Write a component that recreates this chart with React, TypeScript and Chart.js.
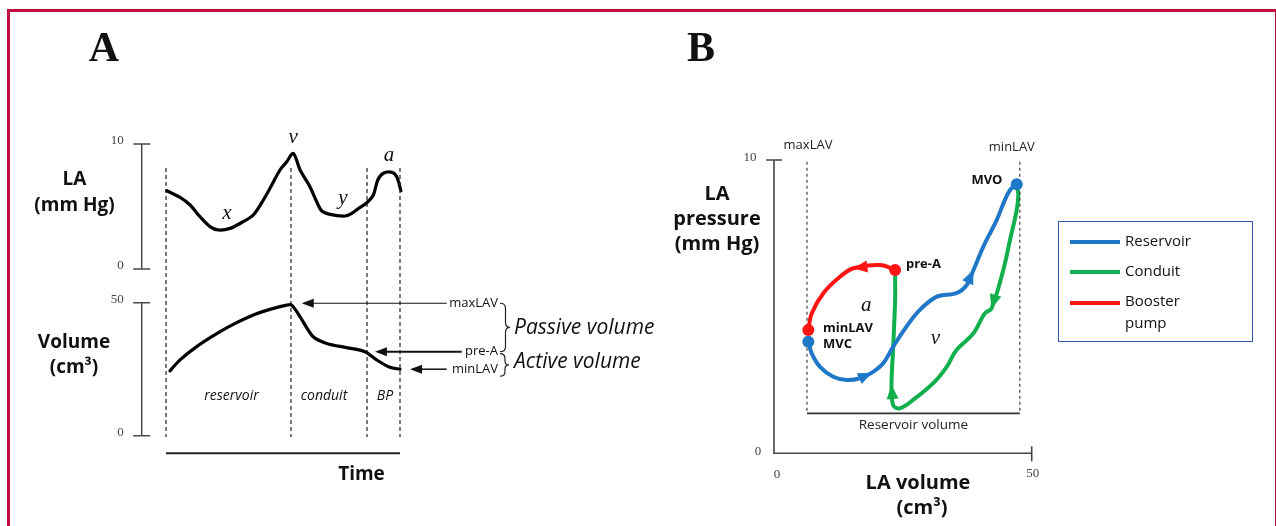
import React, { useEffect, useRef } from "react";
import { Chart, registerables } from "chart.js";
Chart.register(...registerables);

const W = 1276;
const H = 526;
const SANS = '"Open Sans", "DejaVu Sans", sans-serif';
const SERIF = '"Liberation Serif", "DejaVu Serif", serif';

// ---------------- Panel A : LA pressure over time ----------------
const pressureTime = [0.3, 6.0, 10.3, 14.5, 18.8, 22.4, 27.4, 33.0, 37.3, 41.6, 45.2, 48.7, 51.6, 54.4, 57.3, 61.5, 64.4, 66.5, 70.1, 76.5, 79.4, 82.9, 85.8, 88.6, 90.5, 92.9, 96.5, 98.6, 100.4];
const pressureValues = [6.26, 5.73, 5.12, 4.19, 3.39, 3.12, 3.25, 3.79, 4.32, 5.52, 6.72, 7.92, 8.58, 9.25, 7.92, 6.58, 5.38, 4.66, 4.37, 4.24, 4.45, 4.93, 5.3, 5.92, 7.12, 7.66, 7.74, 7.38, 6.26];
const pressureTicks = [0, 10];
const waveLabels = ["x", "v", "y", "a"];
const waveLabelTime = [26, 54.3, 75.6, 95.3];
const waveLabelPressure = [4.48, 10.56, 5.68, 9.12];

// ---------------- Panel A : LA volume over time ----------------
const volumeTime = [1.7, 6.0, 13.1, 23.1, 30.2, 37.3, 44.4, 51.6, 53.7, 57.3, 62.9, 68.7, 77.2, 85.0, 90.0, 95.7, 100];
const volumeValues = [24.4, 28.5, 33.5, 39.1, 42.5, 45.4, 47.5, 49.1, 49.1, 44.7, 37.2, 34.7, 33.1, 31.6, 28.5, 25.7, 25.0];
const volumeTicks = [0, 50];
const phaseBounds = [0, 53.4, 85.9, 100];
const phaseLabels = ["reservoir", "conduit", "BP"];
const phaseLabelTime = [28, 67.5, 93.6];
const markerNames = ["maxLAV", "pre-A", "minLAV"];
const markerVolumes = [49.8, 31.6, 25.0];
const markerTipTime = [58, 89.3, 104.3];

// ---------------- Panel B : pressure-volume loop ----------------
const reservoirVolume = [6.66, 7.31, 8.93, 11.5, 14.1, 16.7, 19.0, 21.2, 23.1, 25.7, 28.3, 31.6, 35.4, 37.4, 38.7, 40.6, 43.2, 44.8, 45.8, 47.1];
const reservoirPressure = [3.80, 3.41, 2.95, 2.61, 2.50, 2.56, 2.75, 3.07, 3.63, 4.32, 4.89, 5.34, 5.46, 5.74, 6.25, 7.04, 7.95, 8.64, 8.98, 9.17];
const conduitVolume = [47.1, 47.4, 47.1, 45.8, 44.5, 42.2, 40.9, 38.7, 35.4, 33.5, 30.9, 27.0, 24.4, 23.1, 22.8, 23.1, 23.5, 23.5];
const conduitPressure = [9.17, 8.81, 8.30, 7.28, 6.26, 4.94, 4.77, 4.09, 3.52, 2.95, 2.39, 1.82, 1.53, 1.65, 2.33, 3.52, 5.23, 6.02];
const boosterVolume = [23.5, 20.6, 15.4, 12.8, 9.57, 7.31, 6.66];
const boosterPressure = [6.25, 6.42, 6.31, 6.02, 5.46, 4.77, 4.20];
const seriesNames = ["Reservoir", "Conduit", "Booster pump"];
const seriesColors = ["#1F77C8", "#12B04C", "#FF1414"];
const loopArrowIndex = [[6, 14], [5, 14], [2]];
const pointNames = ["MVO", "pre-A", "minLAV", "MVC"];
const pointVolume = [47.1, 23.5, 6.66, 6.66];
const pointPressure = [9.17, 6.25, 4.20, 3.80];
const pointColor = [0, 2, 2, 0];
const pointLabelVolume = [38.3, 25.6, 9.5, 9.5];
const pointLabelPressure = [9.3, 6.45, 4.26, 3.7];
const loopLetters = ["a", "v"];
const loopLetterVolume = [17.9, 31.3];
const loopLetterPressure = [5.05, 3.9];
const loopXTicks = [0, 50];
const loopYTicks = [0, 10];
const maxLAVVolume = 6.4;
const minLAVVolume = 47.7;
const bracketPressure = 1.36;
const dashTopPressure = 9.94;

function zip(xs: number[], ys: number[]) {
  return xs.map((x, i) => ({ x, y: ys[i] }));
}

function baseOptions(left: number, top: number, right: number, bottom: number, xMin: number, xMax: number, yMin: number, yMax: number) {
  return {
    responsive: false,
    animation: false as const,
    events: [] as any[],
    layout: { padding: { left, top, right: W - right, bottom: H - bottom } },
    plugins: { legend: { display: false }, tooltip: { enabled: false }, title: { display: false } },
    scales: {
      x: { type: "linear" as const, min: xMin, max: xMax, display: false },
      y: { type: "linear" as const, min: yMin, max: yMax, display: false },
    },
  };
}

function arrowHead(ctx: CanvasRenderingContext2D, x: number, y: number, angle: number, len: number, wid: number, color: string) {
  ctx.save();
  ctx.translate(x, y);
  ctx.rotate(angle);
  ctx.beginPath();
  ctx.moveTo(0, 0);
  ctx.lineTo(-len, -wid / 2);
  ctx.lineTo(-len, wid / 2);
  ctx.closePath();
  ctx.fillStyle = color;
  ctx.fill();
  ctx.restore();
}

function brace(ctx: CanvasRenderingContext2D, x: number, y1: number, y2: number, w: number) {
  const ym = (y1 + y2) / 2;
  const c = x + w * 0.55;
  const r = Math.min(5, (y2 - y1) / 5);
  ctx.beginPath();
  ctx.moveTo(x, y1);
  ctx.quadraticCurveTo(c, y1, c, y1 + r);
  ctx.lineTo(c, ym - r);
  ctx.quadraticCurveTo(c, ym, x + w, ym);
  ctx.quadraticCurveTo(c, ym, c, ym + r);
  ctx.lineTo(c, y2 - r);
  ctx.quadraticCurveTo(c, y2, x, y2);
  ctx.stroke();
}

function scaleBar(chart: any, ticks: number[], ax: number) {
  const { ctx } = chart;
  const ys = chart.scales.y;
  const ps = ticks.map((t) => ys.getPixelForValue(t));
  ctx.save();
  ctx.strokeStyle = "#4a4a4a";
  ctx.lineWidth = 1.5;
  ctx.beginPath();
  ctx.moveTo(ax, Math.min(...ps));
  ctx.lineTo(ax, Math.max(...ps));
  ps.forEach((p) => {
    ctx.moveTo(ax - 8.5, p);
    ctx.lineTo(ax + 8.5, p);
  });
  ctx.stroke();
  ctx.fillStyle = "#444";
  ctx.font = `13px ${SERIF}`;
  ctx.textAlign = "right";
  ctx.textBaseline = "middle";
  ticks.forEach((t, i) => ctx.fillText(String(t), ax - 18, ps[i] - 3));
  ctx.restore();
}

const pressurePlugin = {
  id: "pressureDeco",
  afterDraw(chart: any) {
    const { ctx, chartArea } = chart;
    const xs = chart.scales.x;
    const ys = chart.scales.y;
    scaleBar(chart, pressureTicks, chartArea.left - 24.3);
    ctx.save();
    ctx.strokeStyle = "#222";
    ctx.lineWidth = 1.2;
    ctx.setLineDash([4, 3]);
    phaseBounds.forEach((b) => {
      const x = xs.getPixelForValue(b);
      ctx.beginPath();
      ctx.moveTo(x, chartArea.top + 24);
      ctx.lineTo(x, 437);
      ctx.stroke();
    });
    ctx.setLineDash([]);
    ctx.fillStyle = "#111";
    ctx.font = `italic 21px ${SERIF}`;
    ctx.textAlign = "center";
    ctx.textBaseline = "middle";
    waveLabels.forEach((l, i) => ctx.fillText(l, xs.getPixelForValue(waveLabelTime[i]), ys.getPixelForValue(waveLabelPressure[i])));
    ctx.restore();
  },
};

const volumePlugin = {
  id: "volumeDeco",
  afterDraw(chart: any) {
    const { ctx, chartArea } = chart;
    const xs = chart.scales.x;
    const ys = chart.scales.y;
    scaleBar(chart, volumeTicks, chartArea.left - 24.3);
    ctx.save();
    // time axis
    ctx.strokeStyle = "#222";
    ctx.lineWidth = 2;
    ctx.beginPath();
    ctx.moveTo(xs.getPixelForValue(phaseBounds[0]), chartArea.bottom + 17.6);
    ctx.lineTo(xs.getPixelForValue(phaseBounds[phaseBounds.length - 1]), chartArea.bottom + 17.6);
    ctx.stroke();
    // phase labels
    ctx.fillStyle = "#111";
    ctx.font = `italic 14px ${SANS}`;
    ctx.textAlign = "center";
    ctx.textBaseline = "middle";
    phaseLabels.forEach((l, i) => ctx.fillText(l, xs.getPixelForValue(phaseLabelTime[i]), chartArea.bottom - 39.5));
    // marker arrows
    const tails = [446.7, 461.7, 446.7];
    const widths = [1.2, 2, 1.5];
    ctx.font = `13px ${SANS}`;
    ctx.textAlign = "right";
    markerNames.forEach((name, i) => {
      const y = ys.getPixelForValue(markerVolumes[i]);
      const tip = xs.getPixelForValue(markerTipTime[i]);
      ctx.strokeStyle = "#111";
      ctx.lineWidth = widths[i];
      ctx.beginPath();
      ctx.moveTo(tails[i], y);
      ctx.lineTo(tip + 8, y);
      ctx.stroke();
      arrowHead(ctx, tip, y, Math.PI, 12, 9, "#111");
      ctx.fillStyle = "#111";
      ctx.fillText(name, 498, y);
    });
    // braces
    const yMax = ys.getPixelForValue(markerVolumes[0]);
    const yPre = ys.getPixelForValue(markerVolumes[1]);
    const yMin = ys.getPixelForValue(markerVolumes[2]);
    ctx.strokeStyle = "#222";
    ctx.lineWidth = 1.2;
    brace(ctx, 500, yMax, yPre, 10);
    brace(ctx, 500, yPre + 2, yMin + 7, 9);
    ctx.fillStyle = "#111";
    ctx.font = `italic 21px ${SANS}`;
    ctx.textAlign = "left";
    ctx.fillText("Passive volume", 514, (yMax + yPre) / 2 + 1);
    ctx.fillText("Active volume", 514, yPre + 10);
    ctx.restore();
  },
};

const loopPlugin = {
  id: "loopDeco",
  afterDraw(chart: any) {
    const { ctx } = chart;
    const xs = chart.scales.x;
    const ys = chart.scales.y;
    const x0 = xs.getPixelForValue(loopXTicks[0]);
    const x1 = xs.getPixelForValue(loopXTicks[1]);
    const y0 = ys.getPixelForValue(loopYTicks[0]);
    const y1 = ys.getPixelForValue(loopYTicks[1]);
    ctx.save();
    // axes
    ctx.strokeStyle = "#444";
    ctx.lineWidth = 1.6;
    ctx.beginPath();
    ctx.moveTo(x0, y1);
    ctx.lineTo(x0, y0);
    ctx.lineTo(x1, y0);
    ctx.moveTo(x0 - 8, y1);
    ctx.lineTo(x0 + 8, y1);
    ctx.moveTo(x1, y0 - 7);
    ctx.lineTo(x1, y0 + 8);
    ctx.stroke();
    ctx.fillStyle = "#444";
    ctx.font = `13px ${SERIF}`;
    ctx.textAlign = "center";
    ctx.textBaseline = "middle";
    ctx.fillText(String(loopYTicks[1]), x0 - 24, y1 - 2);
    ctx.fillText(String(loopYTicks[0]), x0 - 16, y0 - 2);
    ctx.fillText(String(loopXTicks[0]), x0 + 3, y0 + 21);
    ctx.fillText(String(loopXTicks[1]), x1 + 1, y0 + 20);
    // dashed volume limits and bracket
    const xl = xs.getPixelForValue(maxLAVVolume);
    const xr = xs.getPixelForValue(minLAVVolume);
    const yb = ys.getPixelForValue(bracketPressure);
    const yt = ys.getPixelForValue(dashTopPressure);
    ctx.strokeStyle = "#333";
    ctx.lineWidth = 1.1;
    ctx.setLineDash([3, 3]);
    ctx.beginPath();
    ctx.moveTo(xl, yt);
    ctx.lineTo(xl, yb);
    ctx.moveTo(xr, yt);
    ctx.lineTo(xr, yb);
    ctx.stroke();
    ctx.setLineDash([]);
    ctx.lineWidth = 1.8;
    ctx.beginPath();
    ctx.moveTo(xl, yb);
    ctx.lineTo(xr, yb);
    ctx.stroke();
    ctx.fillStyle = "#222";
    ctx.font = `13.5px ${SANS}`;
    ctx.fillText("Reservoir volume", (xl + xr) / 2, yb + 12);
    ctx.font = `13px ${SANS}`;
    ctx.fillText("maxLAV", xl + 1, yt - 16);
    ctx.fillText("minLAV", xr - 8, yt - 14);
    // arrowheads along the loop
    chart.data.datasets.forEach((ds: any, di: number) => {
      (loopArrowIndex[di] || []).forEach((idx: number) => {
        const p = ds.data[idx];
        const q = ds.data[idx - 1];
        const px = xs.getPixelForValue(p.x), py = ys.getPixelForValue(p.y);
        const qx = xs.getPixelForValue(q.x), qy = ys.getPixelForValue(q.y);
        arrowHead(ctx, px, py, Math.atan2(py - qy, px - qx), 14, 12, ds.borderColor);
      });
    });
    // named points
    pointNames.forEach((n, i) => {
      ctx.beginPath();
      ctx.arc(xs.getPixelForValue(pointVolume[i]), ys.getPixelForValue(pointPressure[i]), 6, 0, Math.PI * 2);
      ctx.fillStyle = seriesColors[pointColor[i]];
      ctx.fill();
    });
    ctx.fillStyle = "#111";
    ctx.font = `bold 13px ${SANS}`;
    ctx.textAlign = "left";
    pointNames.forEach((n, i) => ctx.fillText(n, xs.getPixelForValue(pointLabelVolume[i]), ys.getPixelForValue(pointLabelPressure[i])));
    ctx.font = `italic 21px ${SERIF}`;
    ctx.textAlign = "center";
    loopLetters.forEach((l, i) => ctx.fillText(l, xs.getPixelForValue(loopLetterVolume[i]), ys.getPixelForValue(loopLetterPressure[i])));
    ctx.restore();
  },
};

function Txt(props: { x: number; y: number; children: React.ReactNode; style?: React.CSSProperties; align?: "left" | "center" | "right" }) {
  const align = props.align || "center";
  const tx = align === "center" ? "-50%" : align === "right" ? "-100%" : "0";
  return (
    <div
      style={{
        position: "absolute",
        left: props.x,
        top: props.y,
        transform: `translate(${tx}, -50%)`,
        whiteSpace: "nowrap",
        lineHeight: 1,
        fontFamily: SANS,
        color: "#111",
        ...props.style,
      }}
    >
      {props.children}
    </div>
  );
}

export default function App() {
  const refA1 = useRef<HTMLCanvasElement>(null);
  const refA2 = useRef<HTMLCanvasElement>(null);
  const refB = useRef<HTMLCanvasElement>(null);

  useEffect(() => {
    const lineDs = (data: any[], color: string, width: number, tension: number) => ({
      data,
      borderColor: color,
      backgroundColor: color,
      borderWidth: width,
      pointRadius: 0,
      tension,
      fill: false,
      clip: false as const,
      showLine: true,
      borderCapStyle: "round" as const,
      borderJoinStyle: "round" as const,
    });
    const c1 = new Chart(refA1.current!, {
      type: "line",
      data: { datasets: [lineDs(zip(pressureTime, pressureValues), "#000", 3.2, 0.3)] },
      options: baseOptions(166, 144, 400, 269, 0, 100, 0, 10) as any,
      plugins: [pressurePlugin],
    });
    const c2 = new Chart(refA2.current!, {
      type: "line",
      data: { datasets: [lineDs(zip(volumeTime, volumeValues), "#000", 3.2, 0.3)] },
      options: baseOptions(166, 302.7, 400, 435.7, 0, 100, 0, 50) as any,
      plugins: [volumePlugin],
    });
    const c3 = new Chart(refB.current!, {
      type: "scatter",
      data: {
        datasets: [
          { label: seriesNames[0], ...lineDs(zip(reservoirVolume, reservoirPressure), seriesColors[0], 4, 0.35) },
          { label: seriesNames[1], ...lineDs(zip(conduitVolume, conduitPressure), seriesColors[1], 4, 0.35) },
          { label: seriesNames[2], ...lineDs(zip(boosterVolume, boosterPressure), seriesColors[2], 4, 0.35) },
        ],
      },
      options: baseOptions(774, 160, 1031.7, 453.3, 0, 50, 0, 10) as any,
      plugins: [loopPlugin],
    });
    return () => {
      c1.destroy();
      c2.destroy();
      c3.destroy();
    };
  }, []);

  const canvasStyle: React.CSSProperties = { position: "absolute", left: 0, top: 0, width: W, height: H };
  const bold19: React.CSSProperties = { fontWeight: 700, fontSize: 19 };
  const bold20: React.CSSProperties = { fontWeight: 700, fontSize: 20 };

  return (
    <div style={{ position: "fixed", left: 0, top: 0, width: W, height: H, background: "#fff", overflow: "hidden" }}>
      <div
        style={{
          position: "absolute",
          left: 7,
          top: 9,
          width: W - 7 + 2,
          height: H + 40,
          boxSizing: "border-box",
          border: "3px solid #C20E3E",
        }}
      />
      <canvas ref={refA1} width={W} height={H} style={canvasStyle} />
      <canvas ref={refA2} width={W} height={H} style={canvasStyle} />
      <canvas ref={refB} width={W} height={H} style={canvasStyle} />

      <Txt x={104} y={47} style={{ fontFamily: SERIF, fontWeight: 700, fontSize: 42 }}>A</Txt>
      <Txt x={701} y={47} style={{ fontFamily: SERIF, fontWeight: 700, fontSize: 42 }}>B</Txt>

      <Txt x={74.5} y={178} style={bold19}>LA</Txt>
      <Txt x={74.5} y={204} style={bold19}>(mm Hg)</Txt>
      <Txt x={74} y={341} style={bold19}>Volume</Txt>
      <Txt x={74} y={366} style={bold19}>(cm³)</Txt>
      <Txt x={361.5} y={473} style={bold19}>Time</Txt>

      <Txt x={717} y={193} style={bold20}>LA</Txt>
      <Txt x={717} y={218} style={bold20}>pressure</Txt>
      <Txt x={717} y={243} style={bold20}>(mm Hg)</Txt>
      <Txt x={918} y={482} style={bold20}>LA volume</Txt>
      <Txt x={922} y={507} style={bold20}>(cm³)</Txt>

      <div
        style={{
          position: "absolute",
          left: 1058,
          top: 221,
          width: 195,
          height: 121,
          boxSizing: "border-box",
          border: "1.5px solid #2E5CA8",
        }}
      />
      {seriesNames.map((n, i) => {
        const ly = [242, 271.5, 303][i];
        return (
          <React.Fragment key={n}>
            <div style={{ position: "absolute", left: 1070, top: ly - 2, width: 50, height: 4, background: seriesColors[i] }} />
            {i === 2 ? (
              <>
                <Txt x={1125} y={300} align="left" style={{ fontSize: 15 }}>Booster</Txt>
                <Txt x={1125} y={322} align="left" style={{ fontSize: 15 }}>pump</Txt>
              </>
            ) : (
              <Txt x={1125} y={ly - 2} align="left" style={{ fontSize: 15 }}>{n}</Txt>
            )}
          </React.Fragment>
        );
      })}
    </div>
  );
}
